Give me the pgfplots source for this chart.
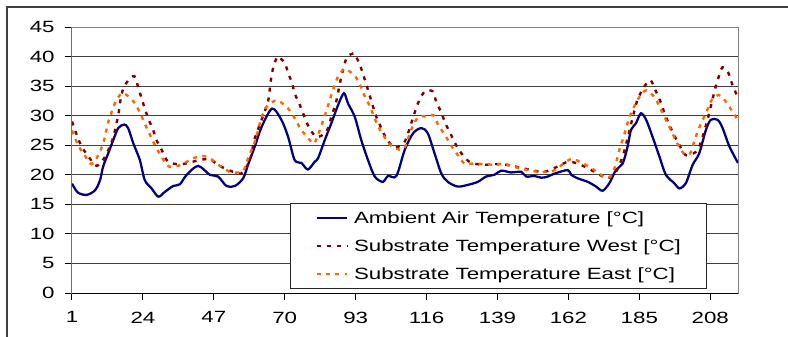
\documentclass[border=0pt]{standalone}
\usepackage{fontspec}
\setmainfont[FakeStretch=1.37]{Liberation Sans}
\usepackage{pgfplots}
\pgfplotsset{compat=1.18}
\definecolor{navyc}{HTML}{000080}
\definecolor{westc}{HTML}{800000}
\definecolor{eastc}{HTML}{FF6600}
\pgfplotstableread{
x y
1 18.5
2.9 17.0
5.8 16.6
8.5 17.4
10.1 19.1
11.1 21.4
12.8 23.7
14.4 25.9
16.0 27.9
17.9 28.5
19.2 27.9
20.9 25.3
23.0 22.5
24.6 19.1
26.8 17.7
29.0 16.3
31.1 17.1
33.8 18.1
36.0 18.4
38.2 20.0
41.9 21.5
45.7 20.0
48.4 19.7
51.1 18.1
53.8 18.1
56.5 19.4
58.1 21.7
60.3 24.8
62.5 28.1
65.9 31.2
68.9 29.3
71.1 26.4
73.2 22.5
75.4 22.0
77.5 20.9
79.7 22.2
80.8 22.8
83.0 25.9
85.1 28.7
87.3 31.8
89.2 33.8
90.5 32.1
92.7 29.8
94.8 25.9
97.0 22.5
99.2 19.7
101.8 18.8
103.5 19.8
106.2 19.8
108.9 24.2
111.6 27.0
114.3 27.9
116.4 27.0
118.6 23.6
120.8 20.2
122.9 18.8
126.1 18.0
129.4 18.3
132.6 18.8
135.3 19.7
138.0 20.0
140.2 20.7
143.4 20.4
146.7 20.5
148.3 19.7
151.0 19.8
153.2 19.5
155.3 19.7
157.5 20.2
161.8 20.8
162.9 20.0
165.0 19.4
168.3 18.8
171.0 18.0
173.1 17.3
175.3 18.6
177.4 20.8
179.6 21.9
181.2 24.8
182.3 27.6
183.9 28.7
185.5 30.4
187.2 29.3
189.3 26.4
191.5 23.1
193.6 20.0
196.3 18.6
198.0 17.7
200.1 18.6
202.3 21.7
204.4 23.6
206.6 27.6
208.2 29.3
210.4 29.3
212.0 27.9
214.2 24.8
217 22.0
}\ambient
\pgfplotstableread{
x y
1 29.0
2.8 26.4
4.1 24.8
6.3 23.1
9.0 21.5
11.7 23.0
13.1 24.6
14.4 26.4
16.0 30.1
17.1 33.7
18.7 35.6
21.2 36.7
22.5 34.7
23.6 32.9
24.6 31.2
25.9 29.3
27.3 27.6
28.4 25.9
30.1 24.2
32.2 22.2
36.5 21.8
42.5 22.5
45.7 22.6
48.9 21.5
53.2 20.5
55.4 20.2
56.5 20.5
58.7 22.5
60.3 26.2
62.5 29.3
64.6 32.5
65.5 36.0
66.2 38.0
67.3 39.7
67.8 40.0
70.0 38.9
71.1 37.2
72.4 35.5
73.2 33.8
74.9 31.8
76.3 29.9
77.8 28.1
80.3 26.4
83.5 27.3
85.1 29.8
86.7 32.4
88.1 36.0
90.0 39.7
92.0 40.5
92.7 40.4
94.3 38.7
95.4 37.0
96.5 35.2
97.5 33.5
98.6 31.6
99.7 29.8
101.3 27.9
102.9 26.2
105.6 24.6
108.9 25.6
111.0 28.7
113.2 32.1
115.4 34.1
118.0 34.1
119.1 32.4
120.8 30.5
122.1 28.7
123.8 26.9
125.6 25.0
127.8 23.3
130.5 22.0
135.3 21.7
140.2 21.8
145.6 21.3
149.9 20.8
154.2 20.5
158.5 21.4
161.8 22.2
165.0 21.9
168.3 21.1
171.5 20.2
174.7 19.4
177.4 20.5
179.6 23.1
181.2 26.2
182.8 29.6
184.4 32.7
186.6 34.9
188.6 36.0
190.4 34.1
192.0 32.2
193.1 30.5
194.5 28.7
196.3 26.7
198.0 25.0
200.1 23.3
203.4 23.9
205.0 25.6
207.1 29.3
209.6 34.6
210.7 36.5
212.0 38.2
213.9 37.2
215.2 35.2
217 33.0
}\west
\pgfplotstableread{
x y
1 27.5
3.0 25.0
5.2 23.2
7.4 21.8
9.5 23.3
11.1 25.3
11.9 27.0
12.8 29.0
13.9 30.7
15.2 32.4
17.1 33.8
18.7 33.5
21.4 32.1
23.4 30.1
24.9 28.3
26.6 26.4
28.1 24.8
30.1 23.0
32.4 21.4
36.5 21.7
40.3 22.8
44.6 23.1
49.0 21.5
52.7 20.4
56.5 20.7
58.1 22.8
59.7 24.8
60.8 26.4
62.4 29.6
64.1 31.5
66.0 32.3
67.8 32.6
71.1 31.2
73.2 29.6
75.2 27.7
77.6 26.2
79.5 25.3
81.4 27.6
82.5 29.3
83.6 31.0
84.7 32.8
85.8 34.6
87.2 36.5
89.0 37.8
90.1 37.8
92.8 36.7
94.4 35.2
96.0 33.2
97.7 31.5
99.1 29.6
100.6 27.9
102.6 26.2
104.7 24.8
106.9 24.3
108.8 24.5
111.0 27.6
113.2 29.7
116.1 29.9
118.2 30.1
119.8 28.4
122.0 26.7
124.0 24.9
126.3 23.2
128.5 21.8
131.2 21.9
138.2 21.7
140.9 21.9
144.7 21.3
147.9 20.9
152.3 20.5
155.5 20.5
157.7 20.8
159.9 21.7
163.1 22.7
166.4 22.0
169.6 21.1
173.4 19.7
175.6 19.7
177.2 21.5
178.5 24.2
179.9 26.4
181.3 29.0
182.8 31.0
184.7 32.9
186.7 34.2
188.0 34.1
190.2 32.9
192.3 30.7
193.9 29.0
195.5 27.3
197.0 25.6
199.4 23.6
201.3 23.5
202.6 25.3
203.9 27.3
205.3 29.0
206.9 30.8
208.5 32.7
210.7 33.5
212.3 32.9
214.7 31.1
217 29.2
}\east
\begin{document}
\begin{tikzpicture}
\path[use as bounding box] (-54pt,-32.25pt) rectangle (537pt,219.75pt);
\draw[black!75, line width=1.5pt] (-48.75pt,-40pt) -- (-48.75pt,214.5pt) -- (545pt,214.5pt);
\begin{axis}[
  at={(0pt,0pt)}, anchor=south west,
  scale only axis, width=499.5pt, height=199.5pt,
  xmin=1, xmax=217, ymin=0, ymax=45,
  xtick={1,24,...,208}, ytick={0,5,...,45},
  xtick pos=left, ytick pos=left,
  tick align=outside, major tick length=5.5pt,
  tick style={black, line width=0.75pt},
  axis line style={draw=black!50, line width=0.75pt},
  ymajorgrids, major grid style={black!75, line width=0.7pt},
  /pgf/number format/assume math mode=true,
  ticklabel style={font=\fontsize{12.2}{14}\selectfont},
  yticklabel shift=4pt,
  xticklabel shift=5pt,
  legend style={at={(0.327,0.338)}, anchor=north west,
    draw=black!85, line width=0.75pt, fill=white,
    inner xsep=19pt, inner ysep=0.5pt, row sep=0pt,
    font=\fontsize{12.2}{14}\selectfont,
    nodes={inner sep=0pt, minimum height=21pt}},
  legend cell align=left,
  /tikz/every odd column/.append style={column sep=4pt},
  legend image code/.code={\draw[#1] (0pt,0pt) -- (23pt,0pt);},
  clip=true,
]
\addplot[navyc, line width=1.7pt, smooth] table {\ambient};
\addlegendentry{Ambient Air Temperature [°C]}
\addplot[westc, line width=1.8pt, dash pattern=on 3pt off 4.5pt, smooth] table {\west};
\addlegendentry{Substrate Temperature West [°C]}
\addplot[eastc, line width=1.8pt, dash pattern=on 3pt off 4pt, smooth] table {\east};
\addlegendentry{Substrate Temperature East [°C]}
\draw[black, line width=0.75pt] (rel axis cs:0,1) -- (rel axis cs:0,0) -- (rel axis cs:1,0);
\end{axis}
\end{tikzpicture}
\end{document}
